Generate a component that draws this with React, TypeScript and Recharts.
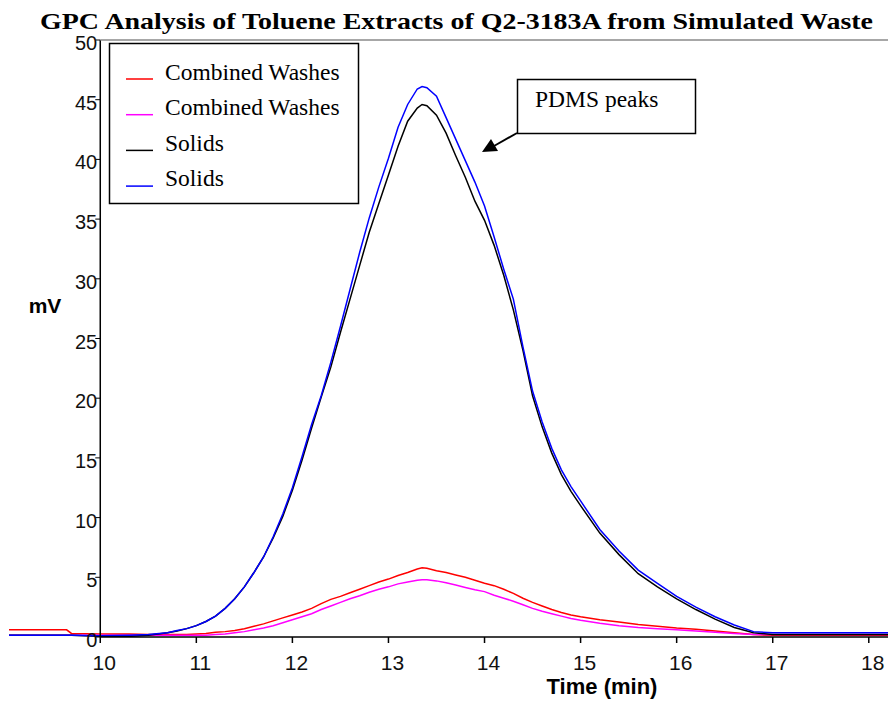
import { LineChart, Line, XAxis, YAxis, ReferenceLine } from "recharts";

const times = [
  9.05, 9.5, 9.65, 9.7, 10.0, 10.3, 10.5, 10.7, 10.8, 10.9, 11.0, 11.1, 11.2, 11.3, 11.4, 11.5, 11.6, 11.7, 11.8,
  11.9, 12.0, 12.1, 12.2, 12.3, 12.4, 12.5, 12.6, 12.7, 12.8, 12.9, 13.0, 13.1, 13.2, 13.3, 13.35, 13.4, 13.5, 13.6,
  13.7, 13.8, 13.9, 14.0, 14.1, 14.2, 14.3, 14.4, 14.5, 14.6, 14.7, 14.8, 14.9, 15.0, 15.2, 15.4, 15.6, 15.8, 16.0,
  16.2, 16.4, 16.6, 16.8, 17.0, 17.5, 18.0, 18.2,
];

const washesRed = [
  0.6, 0.6, 0.6, 0.3, 0.25, 0.25, 0.2, 0.2, 0.2, 0.2, 0.25, 0.3, 0.4, 0.45, 0.55, 0.7, 0.9, 1.1, 1.35, 1.6, 1.85, 2.1,
  2.4, 2.8, 3.15, 3.4, 3.7, 4.0, 4.3, 4.6, 4.85, 5.15, 5.4, 5.7, 5.8, 5.75, 5.55, 5.4, 5.2, 5.0, 4.75, 4.5, 4.3, 4.0,
  3.65, 3.25, 2.9, 2.6, 2.3, 2.05, 1.85, 1.7, 1.45, 1.25, 1.05, 0.9, 0.75, 0.65, 0.5, 0.35, 0.2, 0.15, 0.15, 0.15, 0.15,
];

const washesMagenta = [
  0.15, 0.15, 0.15, 0.15, 0.15, 0.15, 0.15, 0.15, 0.15, 0.15, 0.15, 0.15, 0.2, 0.25, 0.35, 0.45, 0.6, 0.75, 0.95, 1.2,
  1.45, 1.7, 1.95, 2.3, 2.6, 2.9, 3.2, 3.45, 3.75, 4.0, 4.2, 4.45, 4.6, 4.75, 4.8, 4.8, 4.7, 4.55, 4.35, 4.15, 3.95,
  3.8, 3.5, 3.25, 3.0, 2.7, 2.4, 2.15, 1.95, 1.75, 1.55, 1.4, 1.15, 0.95, 0.8, 0.7, 0.6, 0.5, 0.4, 0.3, 0.2, 0.2, 0.2,
  0.2, 0.2,
];

const solidsBlack = [
  0.15, 0.15, 0.15, 0.15, 0.05, 0.05, 0.15, 0.35, 0.5, 0.7, 0.95, 1.3, 1.75, 2.4, 3.2, 4.2, 5.4, 6.7, 8.3, 10.1, 12.3,
  14.8, 17.5, 20.1, 22.6, 25.5, 28.3, 31.1, 33.9, 36.3, 38.7, 41.1, 43.2, 44.3, 44.6, 44.5, 43.7, 42.2, 40.3, 38.5,
  36.5, 34.9, 32.8, 30.3, 27.4, 24.0, 20.2, 17.6, 15.4, 13.6, 12.2, 11.0, 8.7, 6.9, 5.3, 4.2, 3.2, 2.3, 1.5, 0.8, 0.35,
  0.2, 0.2, 0.2, 0.2,
];

const solidsBlue = [
  0.15, 0.15, 0.15, 0.15, 0.1, 0.15, 0.2, 0.35, 0.55, 0.7, 0.95, 1.3, 1.75, 2.4, 3.2, 4.2, 5.4, 6.7, 8.4, 10.3, 12.5,
  15.1, 17.8, 20.2, 23.0, 26.0, 29.1, 32.2, 35.1, 37.7, 40.1, 42.7, 44.6, 45.9, 46.1, 46.0, 45.3, 43.5, 41.7, 39.9,
  38.1, 36.1, 33.5, 30.8, 28.3, 24.3, 20.6, 18.0, 15.8, 14.0, 12.6, 11.4, 9.0, 7.2, 5.6, 4.5, 3.4, 2.5, 1.7, 1.0, 0.45,
  0.35, 0.35, 0.35, 0.35,
];

const xTicks = [10, 11, 12, 13, 14, 15, 16, 17, 18];
const yTicks = [0, 5, 10, 15, 20, 25, 30, 35, 40, 45, 50];

const legendItems = [
  { label: "Combined Washes", color: "#ff0000" },
  { label: "Combined Washes", color: "#ff00ff" },
  { label: "Solids", color: "#000000" },
  { label: "Solids", color: "#0000ff" },
];

const rows = times.map((t, i) => ({
  t,
  red: washesRed[i],
  magenta: washesMagenta[i],
  black: solidsBlack[i],
  blue: solidsBlue[i],
}));

const W = 888;
const H = 707;
const X_DOMAIN: [number, number] = [9.05, 18.2];
const LEFT = 8;
const Y_AXIS_W = 1;
const TOP = 40;
const BOTTOM = 637;
const plotLeft = LEFT + Y_AXIS_W;
// pixel column where the time = 10 axis sits
const AXIS_X = plotLeft + ((10 - X_DOMAIN[0]) / (X_DOMAIN[1] - X_DOMAIN[0])) * (W - plotLeft);

const sans = "'Liberation Sans', Arial, sans-serif";
const serif = "'Liberation Serif', 'Times New Roman', serif";

const YTick = (props: any) => {
  const { y, payload } = props;
  return (
    <g>
      <line x1={AXIS_X - 5} x2={AXIS_X} y1={y} y2={y} stroke="#000" strokeWidth={1} />
      <text x={AXIS_X - 3} y={y + 10} textAnchor="end" fontFamily={sans} fontSize={20} fill="#111">
        {payload.value}
      </text>
    </g>
  );
};

const XTick = (props: any) => {
  const { x, y, payload } = props;
  return (
    <text x={x + 4} y={y + 25} textAnchor="middle" fontFamily={sans} fontSize={21} fill="#111">
      {payload.value}
    </text>
  );
};

export default function App() {
  return (
    <div style={{ position: "absolute", left: 0, top: 0, width: W, height: H, background: "#fff" }}>
      <LineChart
        width={W}
        height={H}
        data={rows}
        margin={{ top: TOP, right: 0, left: LEFT, bottom: H - BOTTOM - 30 }}
      >
        <XAxis
          dataKey="t"
          type="number"
          domain={X_DOMAIN}
          ticks={xTicks}
          allowDataOverflow
          axisLine={false}
          tickLine={{ stroke: "#000", strokeWidth: 1.5 }}
          tickSize={6}
          height={30}
          tick={XTick}
        />
        <YAxis
          type="number"
          domain={[0, 50]}
          ticks={yTicks}
          width={Y_AXIS_W}
          axisLine={false}
          tickLine={false}
          tick={YTick}
          interval={0}
          allowDataOverflow
        />
        <Line dataKey="red" stroke="#ff0000" strokeWidth={1.5} dot={false} isAnimationActive={false} />
        <Line dataKey="magenta" stroke="#ff00ff" strokeWidth={1.5} dot={false} isAnimationActive={false} />
        <Line dataKey="black" stroke="#000000" strokeWidth={1.5} dot={false} isAnimationActive={false} />
        <Line dataKey="blue" stroke="#0000ff" strokeWidth={1.5} dot={false} isAnimationActive={false} />
        <ReferenceLine x={10} stroke="#000" strokeWidth={1.5} ifOverflow="visible" />
      </LineChart>

      <svg width={W} height={H} style={{ position: "absolute", left: 0, top: 0, pointerEvents: "none" }}>
        {/* frame lines of the plot: grey top border, black time axis */}
        <line x1={AXIS_X} x2={W} y1={TOP} y2={TOP} stroke="#8a8a8a" strokeWidth={1.5} />
        <line x1={AXIS_X} x2={W} y1={BOTTOM} y2={BOTTOM} stroke="#000" strokeWidth={1.5} />

        <text
          x={40}
          y={29}
          fontFamily={serif}
          fontWeight="bold"
          fontSize={24}
          textLength={833}
          lengthAdjust="spacingAndGlyphs"
          fill="#000"
        >
          GPC Analysis of Toluene Extracts of Q2-3183A from Simulated Waste
        </text>

        <text x={45} y={313} textAnchor="middle" fontFamily={sans} fontWeight="bold" fontSize={21} fill="#000">
          mV
        </text>
        <text x={602} y={694} textAnchor="middle" fontFamily={sans} fontWeight="bold" fontSize={22} fill="#000">
          Time (min)
        </text>

        <rect x={109.5} y={43.5} width={249} height={160} fill="#fff" stroke="#000" strokeWidth={1.5} />
        {legendItems.map((it, i) => (
          <g key={i}>
            <line x1={126} x2={153} y1={79 + i * 35.7} y2={79 + i * 35.7} stroke={it.color} strokeWidth={1.5} />
            <text x={165} y={80 + i * 35.3} fontFamily={serif} fontSize={23.5} fill="#000">
              {it.label}
            </text>
          </g>
        ))}

        <rect x={517.5} y={79.5} width={178} height={54} fill="#fff" stroke="#000" strokeWidth={1.5} />
        <text x={535} y={107} fontFamily={serif} fontSize={23.5} fill="#000">
          PDMS peaks
        </text>
        <line x1={517} y1={133} x2={494} y2={146} stroke="#000" strokeWidth={2} />
        <polygon points="482,152 491,139 498,151" fill="#000" />
      </svg>
    </div>
  );
}
